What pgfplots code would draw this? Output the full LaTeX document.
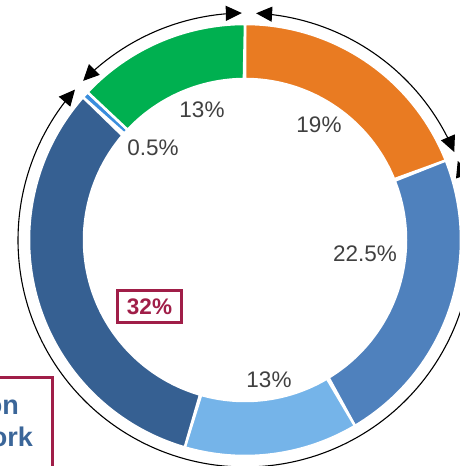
\documentclass[border=0pt]{standalone}
\usepackage{pgfplots}
\pgfplotsset{compat=1.18}
\usepackage{pgfplotstable}
\usepackage{fontspec}
\setmainfont{Liberation Sans}
\usetikzlibrary{arrows.meta}

\definecolor{cOrange}{HTML}{E97B22}
\definecolor{cMid}{HTML}{4F81BD}
\definecolor{cLight}{HTML}{75B4E9}
\definecolor{cDark}{HTML}{366092}
\definecolor{cSmall}{HTML}{3A8EDD}
\definecolor{cGreen}{HTML}{00B050}
\definecolor{cMaroon}{HTML}{A01E48}
\definecolor{cTextBlue}{HTML}{3B6699}
\definecolor{cLabel}{HTML}{404040}

% share (%), cumulative start (%), colour
\pgfplotstableread{
pct start color
19   0     cOrange
22.5 19    cMid
13   41.5  cLight
32   54.5  cDark
0.5  86.5  cSmall
13   87    cGreen
}\donutdata

\def\Ro{216}
\def\Ri{161}

\newcommand{\sector}[3]{% colour, start pct, pct
  \pgfmathsetmacro{\aS}{90-3.6*#2}%
  \pgfmathsetmacro{\aE}{90-3.6*(#2+#3)}%
  \edef\temp{\noexpand\addplot[fill=#1, draw=white, line width=2.5pt, samples=241, domain=0:2]
    ({ifthenelse(x<1.004,\Ro*cos(\aS+(\aE-\aS)*x),\Ri*cos(\aE-(\aE-\aS)*(x-1)))},
     {ifthenelse(x<1.004,\Ro*sin(\aS+(\aE-\aS)*x),\Ri*sin(\aE-(\aE-\aS)*(x-1)))}) -- cycle;}%
  \temp
}

\tikzset{brk/.style={black, line width=1.1pt, {Triangle[length=16pt,width=15pt]}-{Triangle[length=16pt,width=15pt]}}}

\begin{document}
\begin{tikzpicture}
\begin{axis}[x=1pt, y=1pt, xmin=-245, xmax=215, ymin=-226, ymax=240,
  hide axis, clip=true]
  \pgfplotstablegetrowsof{\donutdata}
  \pgfmathtruncatemacro{\nrows}{\pgfplotsretval-1}
  \pgfplotsforeachungrouped \i in {0,...,\nrows}{%
    \pgfplotstablegetelem{\i}{pct}\of{\donutdata}\let\P\pgfplotsretval
    \pgfplotstablegetelem{\i}{start}\of{\donutdata}\let\S\pgfplotsretval
    \pgfplotstablegetelem{\i}{color}\of{\donutdata}\let\C\pgfplotsretval
    \edef\doit{\noexpand\sector{\C}{\S}{\P}}\doit
  }
  % bracket arcs
  \addplot[brk, domain=22.8:87.2, samples=80] ({227*cos(x)},{227*sin(x)});
  \addplot[brk, domain=90.8:135.5, samples=80] ({227*cos(x)},{227*sin(x)});
  \addplot[brk, domain=138.5:380.4, samples=200] ({227*cos(x)},{227*sin(x)});
  % labels
  \begin{scope}[every node/.style={text=cLabel, font=\fontsize{22.5}{27}\selectfont}]
    \node at (axis cs:-43,130) {13\%};
    \node at (axis cs:74,115) {19\%};
    \node at (axis cs:-92,92) {0.5\%};
    \node at (axis cs:120,-14) {22.5\%};
    \node at (axis cs:24,-140) {13\%};
  \end{scope}
  \node[draw=cMaroon, line width=3pt, fill=white, text=cMaroon, font=\fontsize{22.5}{27}\selectfont\bfseries,
        minimum width=64pt, minimum height=32pt, inner sep=0pt] at (axis cs:-95.5,-66.5) {32\%};
  % partial box lower left
  \filldraw[draw=cMaroon, fill=white, line width=3pt] (axis cs:-300,-138) -- (axis cs:-193,-138) -- (axis cs:-193,-300) -- (axis cs:-300,-300) -- cycle;
  \node[anchor=base east, inner sep=0pt, text=cTextBlue, font=\fontsize{27}{31}\selectfont\bfseries] at (axis cs:-226,-175) {on};
  \node[anchor=base east, inner sep=0pt, text=cTextBlue, font=\fontsize{27}{31}\selectfont\bfseries] at (axis cs:-212,-206) {ork};
\end{axis}
\pgfresetboundingbox
\useasboundingbox (current axis.south west) rectangle (current axis.north east);
\end{tikzpicture}
\end{document}
